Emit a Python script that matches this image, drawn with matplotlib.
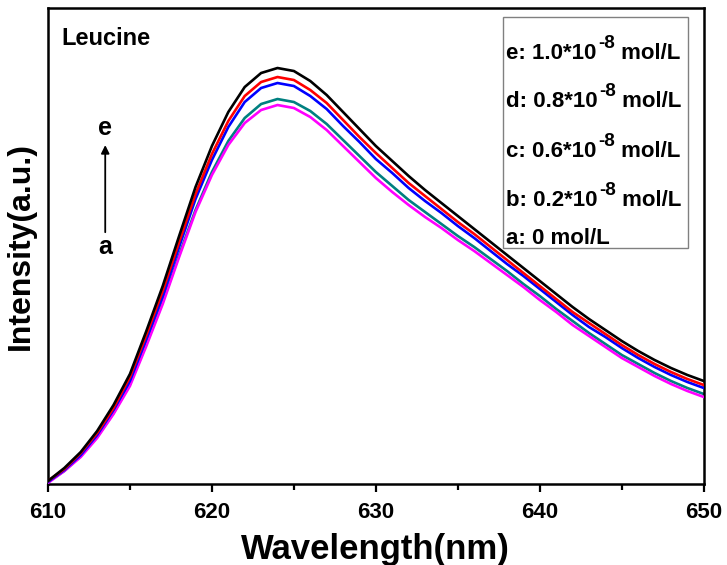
import matplotlib
matplotlib.use("Agg")
import matplotlib.pyplot as plt
from matplotlib.patches import Rectangle

plt.rcParams['font.family'] = ['Liberation Sans', 'DejaVu Sans']
plt.rcParams['font.weight'] = 'bold'

wavelength = list(range(610, 651))

int_e = [3, 16, 32, 53, 79, 110, 153, 198, 248, 297, 338, 372, 397, 411, 416, 413,
         403, 389, 372, 355, 338, 323, 308, 294, 281, 268, 255, 242, 229, 216, 203,
         190, 177, 165, 154, 143, 133, 124, 116, 109, 103]
int_d = [3, 15, 31, 51, 76, 107, 149, 193, 242, 290, 330, 363, 388, 402, 407, 404,
         394, 381, 364, 347, 331, 316, 301, 288, 275, 262, 250, 237, 224, 211, 198,
         185, 172, 161, 150, 139, 129, 120, 112, 105, 99]
int_c = [2, 14, 29, 49, 74, 103, 145, 188, 237, 285, 324, 357, 382, 396, 401, 398,
         388, 375, 358, 342, 325, 311, 296, 283, 271, 258, 246, 233, 220, 208, 195,
         182, 169, 157, 147, 136, 126, 117, 109, 102, 96]
int_b = [2, 13, 28, 47, 71, 100, 140, 182, 229, 274, 312, 343, 366, 380, 385, 382,
         373, 360, 344, 328, 312, 298, 284, 272, 260, 248, 237, 225, 213, 200, 188,
         175, 163, 151, 140, 129, 120, 111, 103, 96, 90]
int_a = [1, 13, 27, 46, 70, 98, 138, 180, 227, 272, 309, 339, 361, 374, 379, 376,
         367, 354, 338, 322, 306, 292, 279, 267, 256, 244, 233, 221, 209, 197, 184,
         172, 159, 148, 137, 126, 117, 108, 100, 93, 87]

# legend entries: (main part, superscript, tail)
legend_parts = [("e: 1.0*10", "-8", " mol/L"),
                ("d: 0.8*10", "-8", " mol/L"),
                ("c: 0.6*10", "-8", " mol/L"),
                ("b: 0.2*10", "-8", " mol/L"),
                ("a: 0 mol/L", "", "")]

fig = plt.figure(figsize=(7.27, 5.65), dpi=100)
ax = fig.add_axes([0.066, 0.1434, 0.902, 0.8424])

lw = 1.9
ax.plot(wavelength, int_b, color='#008080', lw=lw, zorder=2)
ax.plot(wavelength, int_a, color='#FF00FF', lw=lw, zorder=3)
ax.plot(wavelength, int_c, color='#0000FF', lw=lw, zorder=4)
ax.plot(wavelength, int_d, color='#FF0000', lw=lw, zorder=5)
ax.plot(wavelength, int_e, color='#000000', lw=lw, zorder=6)

ax.set_xlim(610, 650)
ax.set_ylim(0, 476)
ax.set_xticks([610, 620, 630, 640, 650])
ax.set_xticks([615, 625, 635, 645], minor=True)
ax.set_yticks([])
ax.tick_params(axis='x', which='major', direction='out', length=6, width=1.6,
               labelsize=16, pad=7)
ax.tick_params(axis='x', which='minor', direction='out', length=4, width=1.6)
for lab in ax.get_xticklabels():
    lab.set_fontweight('bold')
for s in ax.spines.values():
    s.set_linewidth(1.8)

ax.set_xlabel("Wavelength(nm)", fontsize=25, fontweight='bold', labelpad=7)
ax.set_ylabel("Intensity(a.u.)", fontsize=23, fontweight='bold', labelpad=9)

ax.text(0.02, 0.936, "Leucine", transform=ax.transAxes, fontsize=17,
        fontweight='bold', va='center', ha='left')

# arrow a -> e
ax.annotate("", xy=(0.0873, 0.712), xytext=(0.0873, 0.529), xycoords='axes fraction',
            arrowprops=dict(arrowstyle='-|>', color='black', lw=1.3,
                            mutation_scale=12, shrinkA=0, shrinkB=0))
ax.text(0.0873, 0.748, "e", transform=ax.transAxes, fontsize=18, fontweight='bold',
        ha='center', va='center')
ax.text(0.0873, 0.498, "a", transform=ax.transAxes, fontsize=18, fontweight='bold',
        ha='center', va='center')

# legend box
ax.add_patch(Rectangle((0.694, 0.496), 0.282, 0.485, transform=ax.transAxes,
                       fill=False, edgecolor='#808080', lw=1.0, zorder=7))
ys = [0.892, 0.792, 0.687, 0.585, 0.505]
fs = 16
fig.canvas.draw()
renderer = fig.canvas.get_renderer()
for (main, sup, tail), y in zip(legend_parts, ys):
    t1 = ax.text(0.699, y, main, transform=ax.transAxes, fontsize=fs,
                 fontweight='bold', ha='left', va='baseline', zorder=8)
    if sup:
        bb = t1.get_window_extent(renderer)
        x_px = bb.x1
        y_px = ax.transAxes.transform((0, y))[1]
        t2 = fig.text(x_px / fig.bbox.width + 0.002, (y_px + 11) / fig.bbox.height, sup,
                      fontsize=fs * 0.85, fontweight='bold', ha='left', va='baseline',
                      zorder=8)
        bb2 = t2.get_window_extent(renderer)
        fig.text(bb2.x1 / fig.bbox.width, y_px / fig.bbox.height, tail,
                 fontsize=fs, fontweight='bold', ha='left', va='baseline', zorder=8)

fig.savefig("out.png", dpi=100)
